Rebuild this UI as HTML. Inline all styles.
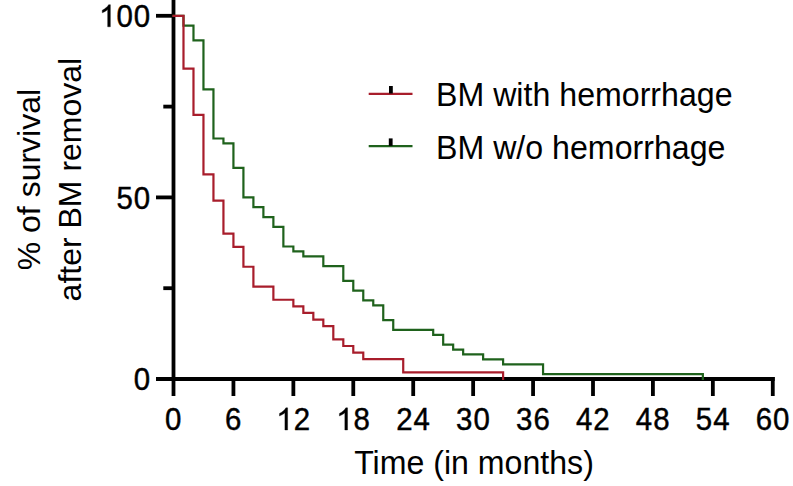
<!DOCTYPE html>
<html><head><meta charset="utf-8"><style>
html,body{margin:0;padding:0;background:#fff;width:793px;height:486px;overflow:hidden}
svg{display:block}
text{font-family:"Liberation Sans",sans-serif;font-size:32px;fill:#000}
</style></head><body>
<svg width="793" height="486" viewBox="0 0 793 486">
<g stroke="#000" stroke-width="3.8" fill="none" stroke-linecap="butt">
<line x1="173.5" y1="0" x2="173.5" y2="381"/>
<line x1="156" y1="379.0" x2="774.7" y2="379.0"/>
<line x1="156" y1="15.80" x2="173.5" y2="15.80"/>
<line x1="156" y1="197.40" x2="173.5" y2="197.40"/>
<line x1="163.3" y1="106.60" x2="173.5" y2="106.60"/>
<line x1="163.3" y1="288.20" x2="173.5" y2="288.20"/>
<line x1="173.50" y1="377" x2="173.50" y2="396"/><line x1="233.43" y1="377" x2="233.43" y2="396"/><line x1="293.36" y1="377" x2="293.36" y2="396"/><line x1="353.28" y1="377" x2="353.28" y2="396"/><line x1="413.21" y1="377" x2="413.21" y2="396"/><line x1="473.14" y1="377" x2="473.14" y2="396"/><line x1="533.07" y1="377" x2="533.07" y2="396"/><line x1="593.00" y1="377" x2="593.00" y2="396"/><line x1="652.92" y1="377" x2="652.92" y2="396"/><line x1="712.85" y1="377" x2="712.85" y2="396"/><line x1="772.78" y1="377" x2="772.78" y2="396"/>
</g>
<g fill="none" stroke-width="2.2" stroke-linejoin="miter" stroke-linecap="square">
<path d="M173.50,15.80 H183.49 V25.62 H193.48 V40.34 H203.46 V89.42 H213.45 V138.50 H223.44 V143.41 H233.43 V167.95 H243.42 V197.40 H253.40 V207.22 H263.39 V217.03 H273.38 V226.85 H283.37 V246.48 H293.36 V251.39 H303.34 V256.30 H323.32 V266.11 H343.30 V280.84 H353.28 V290.65 H363.27 V300.47 H373.26 V305.38 H383.25 V320.10 H393.24 V329.92 H433.19 V334.83 H443.18 V344.64 H453.16 V349.55 H463.15 V354.46 H483.13 V359.37 H503.10 V364.28 H543.06 V374.09 H702.86 V379.00" stroke="#1f621c"/>
<path d="M173.50,15.80 H183.49 V68.63 H193.48 V114.85 H203.46 V174.29 H213.45 V200.70 H223.44 V233.72 H233.43 V246.93 H243.42 V266.74 H253.40 V286.55 H273.38 V299.76 H293.36 V306.36 H303.34 V312.96 H313.33 V319.57 H323.32 V326.17 H333.31 V339.38 H343.30 V345.98 H353.28 V352.59 H363.27 V359.19 H403.22 V372.40 H503.10 V379.00" stroke="#a81d2b"/>
</g>
<g fill="#000">
<path d="M763 0H583V1147Q518 1085 412.5 1023T223 930V1104Q374 1175 487 1276T647 1472H763V0Z" stroke="#000" stroke-width="23.3" transform="translate(98.89,26.8) scale(0.01504,-0.01504)"/><text transform="translate(124.60,26.8) scale(0.92,1)" text-anchor="middle" stroke="#000" stroke-width="0.45">0</text><text transform="translate(142.00,26.8) scale(0.92,1)" text-anchor="middle" stroke="#000" stroke-width="0.45">0</text><text transform="translate(124.60,208.6) scale(0.92,1)" text-anchor="middle" stroke="#000" stroke-width="0.45">5</text><text transform="translate(142.00,208.6) scale(0.92,1)" text-anchor="middle" stroke="#000" stroke-width="0.45">0</text><text transform="translate(142.00,389.7) scale(0.92,1)" text-anchor="middle" stroke="#000" stroke-width="0.45">0</text>
<text transform="translate(173.30,430) scale(0.92,1)" text-anchor="middle" stroke="#000" stroke-width="0.45">0</text><text transform="translate(233.23,430) scale(0.92,1)" text-anchor="middle" stroke="#000" stroke-width="0.45">6</text><path d="M763 0H583V1147Q518 1085 412.5 1023T223 930V1104Q374 1175 487 1276T647 1472H763V0Z" stroke="#000" stroke-width="23.3" transform="translate(276.14,430) scale(0.01504,-0.01504)"/><text transform="translate(301.86,430) scale(0.92,1)" text-anchor="middle" stroke="#000" stroke-width="0.45">2</text><path d="M763 0H583V1147Q518 1085 412.5 1023T223 930V1104Q374 1175 487 1276T647 1472H763V0Z" stroke="#000" stroke-width="23.3" transform="translate(336.07,430) scale(0.01504,-0.01504)"/><text transform="translate(361.78,430) scale(0.92,1)" text-anchor="middle" stroke="#000" stroke-width="0.45">8</text><text transform="translate(404.31,430) scale(0.92,1)" text-anchor="middle" stroke="#000" stroke-width="0.45">2</text><text transform="translate(421.71,430) scale(0.92,1)" text-anchor="middle" stroke="#000" stroke-width="0.45">4</text><text transform="translate(464.24,430) scale(0.92,1)" text-anchor="middle" stroke="#000" stroke-width="0.45">3</text><text transform="translate(481.64,430) scale(0.92,1)" text-anchor="middle" stroke="#000" stroke-width="0.45">0</text><text transform="translate(524.17,430) scale(0.92,1)" text-anchor="middle" stroke="#000" stroke-width="0.45">3</text><text transform="translate(541.57,430) scale(0.92,1)" text-anchor="middle" stroke="#000" stroke-width="0.45">6</text><text transform="translate(584.10,430) scale(0.92,1)" text-anchor="middle" stroke="#000" stroke-width="0.45">4</text><text transform="translate(601.50,430) scale(0.92,1)" text-anchor="middle" stroke="#000" stroke-width="0.45">2</text><text transform="translate(644.02,430) scale(0.92,1)" text-anchor="middle" stroke="#000" stroke-width="0.45">4</text><text transform="translate(661.42,430) scale(0.92,1)" text-anchor="middle" stroke="#000" stroke-width="0.45">8</text><text transform="translate(703.95,430) scale(0.92,1)" text-anchor="middle" stroke="#000" stroke-width="0.45">5</text><text transform="translate(721.35,430) scale(0.92,1)" text-anchor="middle" stroke="#000" stroke-width="0.45">4</text><text transform="translate(763.88,430) scale(0.92,1)" text-anchor="middle" stroke="#000" stroke-width="0.45">6</text><text transform="translate(781.28,430) scale(0.92,1)" text-anchor="middle" stroke="#000" stroke-width="0.45">0</text>
</g>
<g>
<text transform="translate(474,473.9) scale(1.004,1.05)" text-anchor="middle">Time (in months)</text>
<text transform="translate(40.3,179.6) rotate(-90)" text-anchor="middle">% of survival</text>
<text transform="translate(80.7,179.6) rotate(-90)" text-anchor="middle">after BM removal</text>
</g>
<g>
<line x1="368.7" y1="93.8" x2="412.5" y2="93.8" stroke="#a81d2b" stroke-width="2.2"/>
<rect x="389" y="86" width="3.8" height="7.5" fill="#000"/>
<line x1="368.7" y1="146.2" x2="412.5" y2="146.2" stroke="#1f621c" stroke-width="2.2"/>
<rect x="388.8" y="138.4" width="3.8" height="7.5" fill="#000"/>
<text transform="translate(436,105.8) scale(1.005,1.05)">BM with hemorrhage</text>
<text transform="translate(436,159.0) scale(1.005,1.05)">BM w/o hemorrhage</text>
</g>
</svg>
</body></html>
